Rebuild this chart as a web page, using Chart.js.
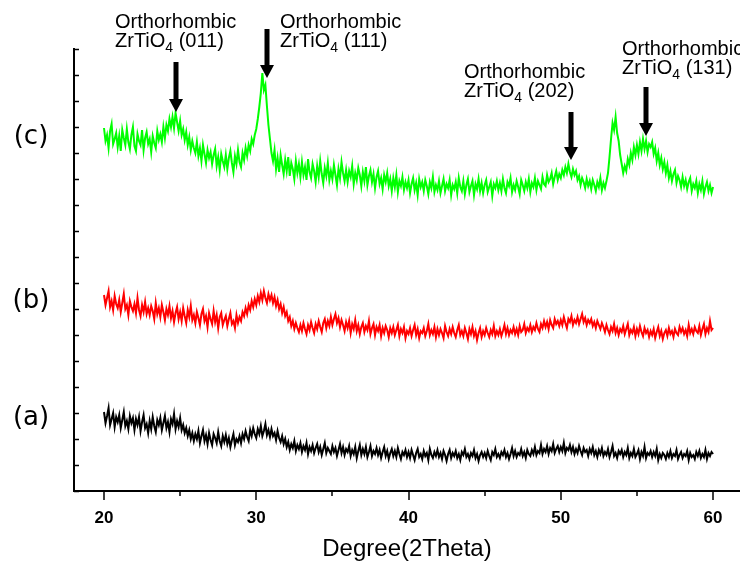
<!DOCTYPE html>
<html>
<head>
<meta charset="utf-8">
<script src="https://cdn.jsdelivr.net/npm/chart.js@4.4.0/dist/chart.umd.min.js"></script>
<style>
  html, body { margin: 0; padding: 0; background: #fff; }
  canvas { display: block; }
</style>
</head>
<body>
<canvas id="xrdChart" width="740" height="564"></canvas>
<script>
// scan: 20-60 deg, 0.1 deg step (a.u.)
const scanStart = 20;
const scanStep = 0.1;

const sampleLabels = ["(a)", "(b)", "(c)"];

// one row = one degree (x.0 ... x.9)
const sampleA = [
  79, 68, 75, 83, 66, 72, 78, 64, 74, 69,
  76, 63, 71, 79, 65, 70, 62, 75, 68, 73,
  61, 72, 66, 74, 60, 69, 76, 63, 67, 58,
  70, 62, 74, 65, 59, 71, 66, 73, 61, 68,
  75, 63, 69, 59, 72, 67, 77, 62, 70, 64,
  73, 61, 66, 58, 63, 55, 61, 52, 58, 50,
  57, 52, 60, 48, 55, 61, 50, 56, 47, 58,
  51, 46, 57, 53, 48, 59, 50, 45, 55, 49,
  56, 47, 53, 44, 51, 57, 46, 52, 49, 55,
  48, 57, 52, 60, 54, 50, 61, 55, 63, 57,
  53, 62, 57, 65, 55, 60, 67, 56, 61, 54,
  62, 55, 58, 51, 60, 53, 49, 55, 47, 52,
  44, 49, 41, 47, 43, 50, 40, 46, 42, 48,
  39, 45, 41, 48, 37, 44, 40, 46, 38, 43,
  47, 39, 44, 36, 42, 48, 38, 43, 40, 37,
  45, 39, 43, 35, 41, 47, 38, 44, 36, 42,
  39, 45, 35, 41, 37, 44, 33, 40, 46, 36,
  42, 37, 44, 34, 39, 45, 35, 40, 37, 43,
  36, 41, 33, 39, 44, 35, 40, 32, 38, 42,
  35, 40, 34, 43, 37, 32, 39, 36, 41, 34,
  39, 33, 41, 36, 31, 38, 42, 34, 37, 32,
  40, 35, 38, 31, 42, 36, 33, 39, 35, 41,
  34, 38, 32, 40, 36, 30, 37, 41, 33, 38,
  35, 40, 33, 37, 31, 39, 36, 42, 34, 37,
  32, 38, 35, 41, 33, 37, 30, 36, 39, 34,
  38, 33, 40, 35, 31, 39, 36, 42, 34, 37,
  33, 39, 36, 41, 34, 38, 32, 37, 43, 35,
  40, 34, 38, 36, 42, 35, 39, 33, 41, 37,
  35, 41, 37, 44, 36, 40, 38, 46, 37, 42,
  39, 45, 37, 43, 40, 47, 38, 42, 45, 39,
  44, 40, 48, 38, 43, 41, 46, 39, 44, 37,
  42, 38, 45, 40, 36, 43, 39, 41, 35, 42,
  38, 44, 36, 40, 34, 41, 37, 43, 35, 39,
  36, 42, 34, 39, 45, 35, 38, 33, 40, 37,
  41, 34, 39, 36, 43, 33, 38, 35, 42, 34,
  37, 41, 32, 39, 35, 44, 33, 38, 36, 40,
  34, 39, 35, 42, 31, 37, 33, 38, 36, 32,
  38, 34, 40, 33, 37, 35, 41, 32, 36, 39,
  33, 37, 35, 40, 31, 38, 34, 36, 32, 39,
  35, 40, 33, 37, 34, 41, 32, 38, 35, 39,
  37
];

const sampleB = [
  196, 186, 193, 200, 184, 190, 181, 195, 187, 183,
  191, 179, 188, 197, 182, 186, 176, 190, 184, 180,
  187, 178, 193, 181, 175, 186, 179, 189, 177, 183,
  176, 185, 180, 172, 188, 177, 183, 174, 186, 179,
  171, 182, 176, 185, 173, 180, 169, 178, 184, 172,
  179, 170, 183, 175, 168, 181, 174, 185, 171, 176,
  168, 179, 173, 166, 177, 182, 170, 175, 164, 178,
  172, 167, 180, 169, 176, 163, 174, 178, 166, 171,
  175, 165, 172, 178, 167, 170, 163, 176, 168, 174,
  170, 179, 175, 183, 177, 186, 181, 190, 184, 192,
  186, 195, 189, 198, 191, 200, 193, 188, 197, 191,
  196, 188, 194, 185, 191, 182, 187, 178, 184, 175,
  179, 170, 174, 165, 170, 162, 168, 163, 159, 166,
  160, 168, 162, 157, 166, 161, 169, 163, 158, 167,
  162, 170, 164, 159, 168, 172, 163, 170, 165, 174,
  166, 172, 177, 168, 173, 164, 171, 166, 160, 169,
  163, 170, 158, 167, 162, 171, 160, 166, 157, 164,
  168, 159, 165, 161, 170, 157, 163, 167, 156, 164,
  160, 166, 155, 163, 158, 165, 161, 154, 163, 158,
  164, 156, 161, 166, 155, 162, 158, 164, 153, 160,
  157, 163, 155, 161, 166, 156, 162, 153, 160, 158,
  163, 155, 160, 167, 156, 161, 157, 164, 154, 162,
  156, 162, 158, 153, 165, 159, 155, 162, 157, 164,
  158, 154, 161, 166, 156, 160, 155, 163, 158, 152,
  162, 157, 164, 155, 160, 151, 158, 163, 154, 160,
  156, 163, 158, 154, 161, 157, 165, 155, 160, 156,
  162, 155, 160, 166, 157, 163, 156, 161, 158, 164,
  157, 162, 156, 165, 159, 161, 167, 158, 163, 160,
  166, 159, 164, 161, 168, 162, 159, 167, 163, 170,
  164, 169, 162, 171, 166, 163, 172, 167, 170, 165,
  171, 166, 174, 168, 163, 172, 169, 175, 166, 171,
  168, 174, 167, 172, 177, 169, 173, 166, 171, 168,
  172, 165, 169, 163, 170, 166, 162, 168, 164, 159,
  166, 161, 157, 164, 160, 167, 158, 163, 156, 162,
  159, 165, 157, 162, 167, 156, 161, 158, 164, 155,
  162, 157, 165, 159, 155, 163, 158, 161, 154, 160,
  156, 162, 153, 159, 164, 155, 160, 152, 158, 161,
  155, 163, 157, 160, 154, 162, 158, 156, 164, 159,
  163, 157, 161, 155, 166, 158, 162, 157, 164, 160,
  158, 165, 156, 162, 167, 157, 163, 159, 170, 161,
  163
];

const sampleC = [
  363, 350, 356, 343, 360, 367, 347, 352, 358, 344,
  355, 340, 361, 353, 346, 362, 349, 342, 356, 364,
  345, 340, 357, 350, 346, 361, 341, 353, 359, 347,
  352, 339, 355, 348, 343, 360, 351, 357, 349, 364,
  353, 366, 360, 372, 364, 374, 363, 378, 369, 360,
  370, 356, 362, 351, 359, 346, 354, 341, 350, 343,
  338, 349, 335, 343, 330, 346, 337, 328, 341, 333,
  339, 327, 336, 342, 325, 334, 321, 337, 330, 324,
  336, 322, 333, 340, 328, 319, 335, 327, 341, 329,
  324, 338, 331, 343, 335, 346, 340, 352, 347, 356,
  362, 372, 384, 398, 418, 401, 406, 385, 366, 352,
  338, 330, 341, 322, 333, 319, 336, 326, 317, 331,
  320, 334, 315, 328, 322, 312, 330, 318, 327, 314,
  329, 316, 324, 311, 332, 319, 313, 327, 320, 309,
  325, 314, 330, 317, 308, 323, 315, 328, 311, 320,
  312, 326, 316, 306, 322, 313, 329, 318, 310, 321,
  309, 320, 314, 325, 307, 318, 311, 323, 316, 305,
  319, 310, 324, 306, 315, 321, 309, 317, 303, 314,
  320, 307, 313, 302, 316, 309, 318, 305, 312, 300,
  313, 304, 316, 299, 310, 305, 314, 301, 309, 303,
  311, 298, 307, 313, 301, 308, 296, 312, 304, 309,
  300, 311, 305, 297, 309, 303, 314, 299, 306, 301,
  310, 298, 305, 312, 300, 307, 303, 311, 296, 306,
  302, 309, 298, 313, 304, 300, 310, 297, 306, 312,
  299, 305, 310, 296, 307, 302, 312, 300, 308, 298,
  306, 311, 299, 304, 309, 295, 307, 303, 310, 301,
  308, 300, 312, 303, 298, 309, 305, 313, 299, 306,
  301, 310, 304, 297, 311, 306, 300, 309, 303, 312,
  299, 308, 304, 313, 301, 310, 306, 302, 314, 307,
  305, 316, 309, 312, 318, 307, 314, 320, 311, 317,
  313, 321, 316, 324, 318, 327, 319, 314, 322, 316,
  320, 311, 315, 306, 313, 309, 303, 312, 305, 310,
  302, 311, 306, 300, 309, 304, 313, 301, 308, 303,
  310, 318, 334, 352, 368, 361, 374, 358, 350, 336,
  327, 318, 325, 320, 332, 326, 338, 331, 344, 336,
  346, 337, 349, 340, 352, 342, 350, 339, 347, 344,
  349, 337, 343, 330, 338, 326, 333, 322, 329, 318,
  326, 313, 320, 310, 317, 321, 308, 315, 311, 304,
  314, 305, 311, 302, 309, 313, 300, 307, 303, 310,
  298, 307, 301, 310, 297, 304, 309, 300, 306, 298,
  304
];

const peakHkl = ["(011)", "(111)", "(202)", "(131)"];
const peakAngle = [24.7, 30.7, 50.7, 55.6];

const xTickValues = [20, 25, 30, 35, 40, 45, 50, 55, 60];

const toPoints = arr => arr.map((v, i) => ({ x: scanStart + i * scanStep, y: v }));

// arrow / text placement (pixels), one entry per peak
const peakLayout = [
  { top: 62, tip: 112, dx: -61, base: 28 },
  { top: 29, tip: 78, dx: 13, base: 28 },
  { top: 112, tip: 160, dx: -107, base: 78 },
  { top: 87, tip: 136, dx: -24, base: 55 }
];

const overlayPlugin = {
  id: "overlay",
  afterDraw(chart) {
    const ctx = chart.ctx;
    const xs = chart.scales.x;
    const ys = chart.scales.y;
    const area = chart.chartArea;

    ctx.save();
    ctx.strokeStyle = "#000";
    ctx.fillStyle = "#000";
    ctx.lineWidth = 1.5;

    // x ticks, outside
    xTickValues.forEach(v => {
      const px = Math.round(xs.getPixelForValue(v));
      const len = v % 10 === 0 ? 9 : 5;
      ctx.beginPath();
      ctx.moveTo(px, area.bottom);
      ctx.lineTo(px, area.bottom + len);
      ctx.stroke();
    });

    // y ticks, inside
    ys.ticks.forEach(t => {
      const py = Math.round(ys.getPixelForValue(t.value)) + 0.5;
      ctx.beginPath();
      ctx.moveTo(area.left, py);
      ctx.lineTo(area.left + 5, py);
      ctx.stroke();
    });

    // sample labels beside the start of each trace
    ctx.font = '26px "DejaVu Sans", sans-serif';
    ctx.textAlign = "center";
    ctx.textBaseline = "middle";
    [sampleA, sampleB, sampleC].forEach((s, i) => {
      const head = s.slice(0, 10);
      const level = head.reduce((a, b) => a + b, 0) / head.length;
      ctx.fillText(sampleLabels[i], 31, ys.getPixelForValue(level));
    });

    // peak arrows + labels
    ctx.textAlign = "left";
    ctx.textBaseline = "alphabetic";
    peakHkl.forEach((hkl, i) => {
      const L = peakLayout[i];
      const ax = Math.round(xs.getPixelForValue(peakAngle[i]));
      ctx.fillRect(ax - 2.5, L.top, 5, L.tip - L.top - 12);
      ctx.beginPath();
      ctx.moveTo(ax - 7, L.tip - 13);
      ctx.lineTo(ax + 7, L.tip - 13);
      ctx.lineTo(ax, L.tip);
      ctx.closePath();
      ctx.fill();

      const tx = ax + L.dx;
      ctx.font = '20px "Liberation Sans", Arial, sans-serif';
      ctx.fillText("Orthorhombic", tx, L.base);
      let cx = tx;
      const b2 = L.base + 19;
      ctx.fillText("ZrTiO", cx, b2);
      cx += ctx.measureText("ZrTiO").width;
      ctx.font = '14px "Liberation Sans", Arial, sans-serif';
      ctx.fillText("4", cx, b2 + 5);
      cx += ctx.measureText("4").width;
      ctx.font = '20px "Liberation Sans", Arial, sans-serif';
      ctx.fillText(" " + hkl, cx, b2);
    });
    ctx.restore();
  }
};

new Chart(document.getElementById("xrdChart"), {
  type: "line",
  data: {
    datasets: [
      { label: "(a)", data: toPoints(sampleA), borderColor: "#000000" },
      { label: "(b)", data: toPoints(sampleB), borderColor: "#ff0000" },
      { label: "(c)", data: toPoints(sampleC), borderColor: "#00ff00" }
    ]
  },
  options: {
    responsive: false,
    animation: false,
    layout: { padding: { top: 49, right: 0, left: 0, bottom: 0 } },
    elements: {
      line: { borderWidth: 2, tension: 0, fill: false },
      point: { radius: 0 }
    },
    plugins: {
      legend: { display: false },
      tooltip: { enabled: false }
    },
    scales: {
      x: {
        type: "linear",
        min: 18.03,
        max: 61.77,
        afterBuildTicks: scale => {
          scale.ticks = xTickValues.map(v => ({ value: v }));
        },
        afterFit: scale => { scale.height = 73; },
        grid: { display: false, drawTicks: false },
        border: { display: true, color: "#000", width: 2 },
        ticks: {
          padding: 17,
          color: "#000",
          maxRotation: 0,
          font: { family: "Liberation Sans", size: 17, weight: "bold" },
          callback: v => (v % 10 === 0 ? v : "")
        },
        title: {
          display: true,
          text: "Degree(2Theta)",
          color: "#000",
          padding: { top: 1, bottom: 0 },
          font: { family: "Liberation Sans", size: 24 }
        }
      },
      y: {
        min: 0,
        max: 442,
        afterFit: scale => { scale.width = 74; },
        ticks: { display: false, stepSize: 26 },
        grid: { display: false, drawTicks: false },
        border: { display: true, color: "#000", width: 2 }
      }
    }
  },
  plugins: [overlayPlugin]
});
</script>
</body>
</html>
